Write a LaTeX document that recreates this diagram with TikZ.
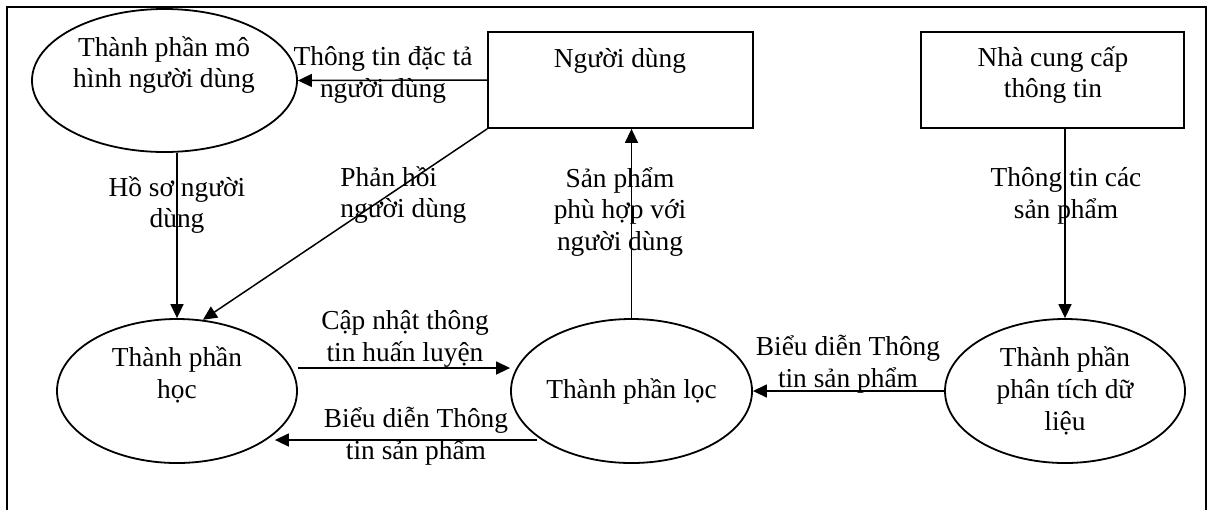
\documentclass[tikz,border=0pt]{standalone}
\usepackage{fontspec}
\setmainfont{Liberation Serif}
\usetikzlibrary{shapes.geometric,arrows.meta,calc}
\begin{document}
\begin{tikzpicture}[x=0.5pt,y=-0.5pt,
  lbl/.style={inner sep=0pt,align=center,font=\fontsize{13.7}{15.9}\selectfont},
  ell/.style={draw,ellipse,line width=0.9pt,lbl},
  boxn/.style={draw,rectangle,line width=0.9pt,inner sep=0pt},
  arr/.style={line width=0.75pt,-{Triangle[length=7pt,width=6.5pt]}}]
\useasboundingbox (0,0) rectangle (1209,510);
\draw[line width=1pt] (7,510) -- (7,7) -- (1206,7) -- (1206,510);
% nodes
\node[ell,minimum width=132.5pt,minimum height=71.5pt] (um) at (164.5,80.5) {};
\node[lbl] (umt) at (164,65) {Thành phần mô\\hình người dùng};
\node[boxn,minimum width=132.5pt,minimum height=48pt] (nd) at (620.5,80) {};
\node[lbl] (ndt) at (620,61) {Người dùng};
\node[boxn,minimum width=131.5pt,minimum height=48pt] (ncc) at (1052.5,80) {};
\node[lbl] (ncct) at (1053,75) {Nhà cung cấp\\thông tin};
\node[ell,minimum width=120pt,minimum height=72pt] (hoc) at (177,391) {};
\node[lbl] (hoct) at (177,375) {Thành phần\\học};
\node[ell,minimum width=120.5pt,minimum height=72pt] (loc) at (631.5,391) {Thành phần lọc};
\node[ell,minimum width=120pt,minimum height=72pt] (ana) at (1065,391) {Thành phần\\phân tích dữ\\liệu};
% connectors
\draw[arr] (nd.west) -- (um.east);
\draw[arr] (um.south -| hoc.north) -- (hoc.north);
\draw[arr] (nd.south west) -- (hoc.70);
\draw[arr] (loc.north) -- (loc.north |- nd.south);
\draw[arr] (ana.north |- ncc.south) -- (ana.north);
\draw[arr] (ana.west) -- (loc.east);
\draw[arr] ([yshift=11.5pt]hoc.east) -- ([yshift=11.5pt]loc.west);
\draw[arr] ($(loc.west)+(27,49)$) -- ($(hoc.east)+(-23,49)$);
% labels
\node[lbl] (l1) at (383,75) {Thông tin đặc tả\\người dùng};
\node[lbl] (l2) at (177,205) {Hồ sơ người\\dùng};
\node[lbl,align=left,anchor=west] (l3) at (340,195) {Phản hồi\\người dùng};
\node[lbl] (l4) at (620,212) {Sản phẩm\\phù hợp với\\người dùng};
\node[lbl] (l5) at (1066,196) {Thông tin các\\sản phẩm};
\node[lbl] (l6) at (405,339) {Cập nhật thông\\tin huấn luyện};
\node[lbl] (l7) at (416,436) {Biểu diễn Thông\\tin sản phẩm};
\node[lbl] (l8) at (848,364) {Biểu diễn Thông\\tin sản phẩm};
\end{tikzpicture}
\end{document}
